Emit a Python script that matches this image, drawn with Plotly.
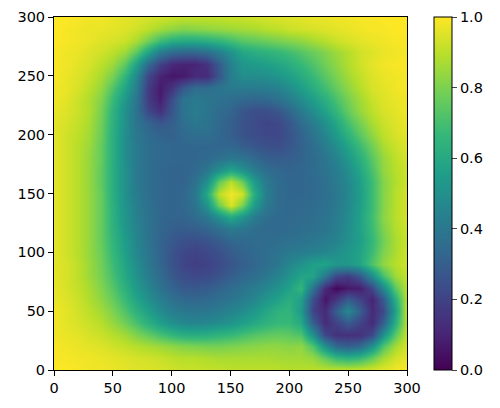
import plotly.graph_objects as go

# grid positions, every 10 units
x_vals = list(range(0, 301, 10))
y_vals = list(range(0, 301, 10))

tick_vals = [0, 50, 100, 150, 200, 250, 300]
cbar_ticks = [0.0, 0.2, 0.4, 0.6, 0.8, 1.0]
cbar_labels = ["0.0", "0.2", "0.4", "0.6", "0.8", "1.0"]

# values, one row per y (y=0 first)
y000 = [1.0,1.0,.99,.98,.98,.97,.96,.95,.95,.94,.93,.92,.92,.91,.91,.90,.90,.90,.90,.90,.89,.89,.90,.90,.91,.91,.92,.94,.96,.98,1.0]
y010 = [.99,.99,.98,.98,.97,.96,.95,.94,.93,.92,.90,.89,.89,.88,.87,.87,.87,.87,.87,.86,.86,.86,.84,.76,.67,.64,.67,.76,.86,.93,.97]
y020 = [.99,.98,.97,.96,.95,.93,.91,.89,.87,.85,.83,.81,.80,.79,.79,.80,.81,.82,.83,.83,.82,.83,.72,.50,.34,.30,.34,.50,.72,.86,.94]
y030 = [.98,.97,.96,.94,.92,.89,.86,.81,.76,.71,.66,.63,.62,.63,.65,.67,.70,.73,.75,.76,.75,.72,.50,.22,.14,.14,.14,.22,.50,.74,.92]
y040 = [.98,.96,.94,.92,.89,.84,.78,.71,.63,.56,.50,.47,.46,.47,.49,.52,.56,.60,.64,.67,.67,.60,.30,.12,.20,.28,.20,.12,.30,.62,.90]
y050 = [.98,.96,.93,.90,.86,.80,.72,.64,.56,.48,.43,.40,.39,.40,.42,.45,.48,.53,.59,.64,.65,.54,.20,.12,.30,.47,.30,.12,.22,.56,.91]
y060 = [.97,.95,.92,.88,.83,.76,.67,.58,.50,.43,.37,.34,.33,.34,.36,.39,.42,.46,.52,.57,.62,.56,.24,.06,.16,.28,.20,.10,.28,.62,.90]
y070 = [.97,.94,.91,.87,.81,.73,.63,.54,.46,.38,.32,.28,.28,.29,.32,.35,.38,.42,.46,.51,.57,.66,.38,.12,.02,.07,.08,.22,.46,.74,.90]
y080 = [.96,.94,.90,.85,.79,.70,.60,.51,.42,.35,.28,.24,.22,.23,.26,.30,.33,.36,.40,.45,.51,.58,.58,.40,.22,.18,.28,.48,.70,.85,.91]
y090 = [.96,.94,.90,.85,.78,.68,.58,.49,.40,.33,.26,.21,.19,.20,.23,.27,.30,.33,.36,.40,.46,.51,.56,.58,.53,.53,.58,.72,.83,.89,.93]
y100 = [.96,.93,.89,.84,.77,.66,.56,.47,.39,.32,.26,.22,.20,.22,.25,.29,.32,.34,.36,.38,.41,.42,.44,.46,.49,.53,.58,.68,.80,.87,.93]
y110 = [.96,.93,.89,.84,.76,.65,.55,.46,.38,.32,.28,.25,.24,.26,.29,.33,.34,.35,.35,.36,.37,.38,.40,.42,.45,.50,.56,.66,.78,.87,.92]
y120 = [.96,.93,.89,.84,.76,.64,.53,.45,.38,.33,.30,.29,.30,.32,.36,.41,.39,.36,.34,.34,.35,.36,.37,.39,.43,.49,.57,.68,.80,.88,.93]
y130 = [.96,.93,.89,.84,.76,.63,.52,.44,.38,.33,.32,.32,.35,.40,.50,.60,.52,.42,.36,.34,.34,.35,.36,.38,.42,.48,.57,.69,.82,.89,.94]
y140 = [.96,.93,.89,.84,.76,.63,.51,.43,.37,.33,.32,.33,.38,.52,.78,.95,.80,.55,.41,.35,.33,.34,.35,.37,.41,.47,.56,.68,.81,.89,.94]
y150 = [.96,.93,.89,.84,.76,.62,.50,.42,.36,.33,.32,.33,.40,.60,.90,.98,.93,.62,.43,.35,.33,.33,.34,.36,.40,.46,.55,.68,.81,.89,.94]
y160 = [.96,.93,.89,.84,.75,.62,.50,.41,.36,.33,.32,.32,.37,.50,.76,.90,.78,.55,.41,.35,.33,.33,.34,.37,.41,.47,.56,.68,.81,.88,.93]
y170 = [.96,.93,.89,.84,.75,.62,.50,.41,.36,.33,.32,.32,.34,.40,.50,.58,.51,.42,.36,.33,.32,.33,.35,.38,.42,.49,.59,.71,.83,.89,.93]
y180 = [.96,.93,.89,.84,.76,.62,.49,.41,.36,.34,.33,.33,.33,.34,.37,.40,.38,.34,.30,.29,.30,.32,.35,.39,.45,.53,.63,.74,.84,.90,.94]
y190 = [.96,.93,.89,.85,.76,.62,.49,.41,.36,.34,.33,.33,.33,.33,.33,.33,.30,.27,.25,.24,.27,.31,.36,.42,.49,.58,.68,.78,.87,.92,.95]
y200 = [.96,.93,.90,.86,.77,.62,.49,.40,.35,.32,.31,.34,.36,.36,.33,.30,.26,.24,.22,.22,.26,.32,.38,.46,.54,.64,.74,.83,.90,.94,.96]
y210 = [.96,.94,.91,.87,.78,.63,.50,.39,.32,.27,.30,.36,.40,.38,.34,.30,.26,.23,.21,.22,.27,.35,.42,.50,.59,.70,.79,.87,.92,.95,.97]
y220 = [.97,.95,.92,.88,.79,.64,.50,.38,.22,.14,.27,.38,.42,.39,.35,.32,.27,.24,.24,.27,.33,.41,.49,.57,.66,.76,.84,.90,.94,.96,.98]
y230 = [.98,.96,.92,.88,.81,.67,.53,.40,.18,.08,.24,.38,.41,.39,.37,.36,.34,.33,.34,.37,.42,.49,.56,.63,.71,.79,.86,.92,.95,.97,.98]
y240 = [.98,.97,.94,.90,.84,.72,.58,.43,.18,.07,.15,.28,.35,.36,.39,.41,.41,.41,.42,.44,.49,.55,.62,.69,.76,.83,.89,.94,.96,.98,.99]
y250 = [.99,.97,.95,.92,.87,.79,.65,.47,.22,.10,.06,.07,.12,.12,.27,.43,.49,.49,.49,.52,.56,.61,.67,.74,.80,.86,.91,.95,.97,.98,.99]
y260 = [.99,.98,.96,.94,.90,.85,.75,.58,.35,.20,.12,.10,.10,.15,.29,.44,.52,.54,.56,.59,.62,.67,.72,.78,.83,.88,.93,.96,.98,.99,.99]
y270 = [.99,.98,.97,.95,.93,.90,.85,.75,.58,.42,.35,.33,.33,.36,.43,.51,.59,.62,.64,.66,.69,.73,.77,.81,.85,.89,.93,.95,.97,.98,.99]
y280 = [1.0,.99,.98,.97,.95,.94,.92,.87,.78,.68,.62,.60,.60,.62,.65,.69,.73,.75,.77,.79,.81,.83,.86,.89,.92,.94,.96,.97,.98,.99,.99]
y290 = [1.0,.99,.98,.97,.97,.96,.95,.93,.90,.86,.83,.81,.82,.83,.84,.85,.86,.87,.89,.90,.92,.93,.94,.95,.96,.97,.98,.99,.99,1.0,1.0]
y300 = [1.0,1.0,.99,.98,.98,.97,.96,.95,.94,.93,.92,.91,.91,.91,.91,.92,.92,.93,.94,.95,.95,.96,.97,.97,.98,.98,.99,.99,1.0,1.0,1.0]

z_rows = [y000, y010, y020, y030, y040, y050, y060, y070, y080, y090, y100,
          y110, y120, y130, y140, y150, y160, y170, y180, y190, y200,
          y210, y220, y230, y240, y250, y260, y270, y280, y290, y300]

font_main = dict(family="DejaVu Sans", size=14.5, color="#000000")

fig = go.Figure()

fig.add_trace(go.Heatmap(
    x=x_vals,
    y=y_vals,
    z=z_rows,
    zmin=0,
    zmax=1,
    zsmooth="best",
    colorscale="Viridis",
    colorbar=dict(
        thickness=18,
        len=1,
        x=1.0765,
        xanchor="left",
        xpad=0,
        ypad=0,
        outlinewidth=1,
        outlinecolor="#000000",
        tickmode="array",
        tickvals=cbar_ticks,
        ticktext=cbar_labels,
        ticks="outside",
        ticklen=5,
        tickwidth=1,
        tickfont=font_main,
    ),
))

axis_style = dict(
    range=[0, 300],
    tickmode="array",
    tickvals=tick_vals,
    ticks="outside",
    ticklen=5,
    tickwidth=1,
    tickcolor="#000000",
    tickfont=font_main,
    showline=True,
    linecolor="#000000",
    linewidth=1,
    mirror=True,
    showgrid=False,
    zeroline=False,
)

fig.update_xaxes(**axis_style)
fig.update_yaxes(**axis_style)

# page body adds 8px on the left and top, so the figure is 8px smaller
fig.update_layout(
    width=492,
    height=400,
    margin=dict(l=46, r=93, t=9, b=38, autoexpand=False),
    paper_bgcolor="white",
    plot_bgcolor="white",
)

fig.write_html("out.html")
